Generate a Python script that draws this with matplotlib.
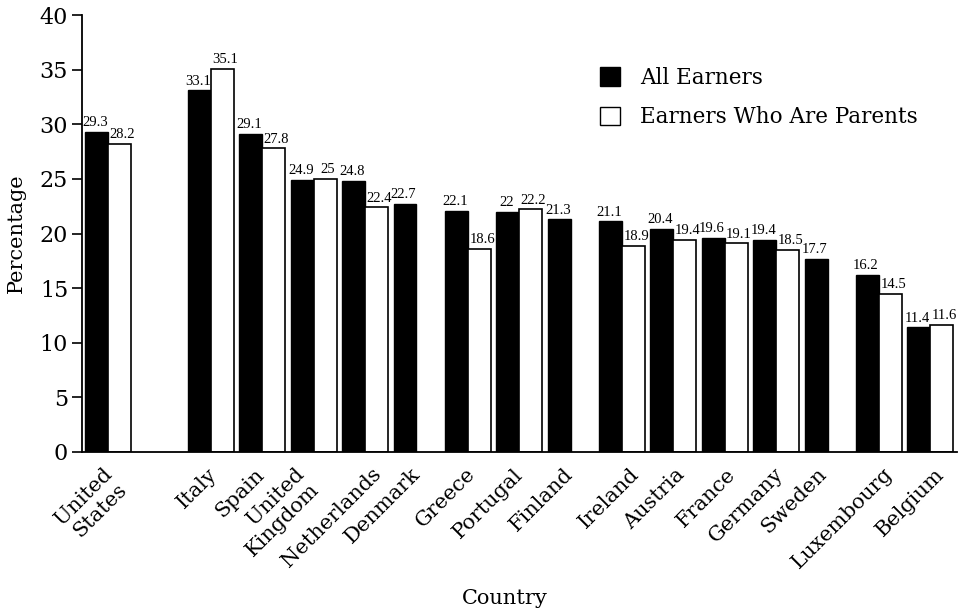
import numpy as np
import matplotlib
matplotlib.use("Agg")
import matplotlib.pyplot as plt
from matplotlib.patches import Patch
from matplotlib.transforms import ScaledTranslation

countries = ["United\nStates", "Italy", "Spain", "United\nKingdom", "Netherlands",
             "Denmark", "Greece", "Portugal", "Finland", "Ireland", "Austria",
             "France", "Germany", "Sweden", "Luxembourg", "Belgium"]
all_earners = [29.3, 33.1, 29.1, 24.9, 24.8, 22.7, 22.1, 22.0, 21.3, 21.1, 20.4,
               19.6, 19.4, 17.7, 16.2, 11.4]
# no figure for parents in Denmark, Finland, Sweden
parents = [28.2, 35.1, 27.8, 25.0, 22.4, None, 18.6, 22.2, None, 18.9, 19.4,
           19.1, 18.5, None, 14.5, 11.6]

main_font = "DejaVu Serif"
num_font = "Liberation Serif"

# US sits apart from the European group
x = np.array([0] + list(range(2, 17)), dtype=float)
w = 0.447
# sideways nudge of each country name, in pixels
label_nudge = [-6, -4, -8, -19, 6, -6, -2, -6, -7, 7, 2, 1, -2, -11, 4, 4]

fig = plt.figure(figsize=(9.58, 6.09), dpi=100)
ax = fig.add_axes([82 / 958, 1 - 452 / 609, 875 / 958, 437 / 609])

for xi, a, p in zip(x, all_earners, parents):
    ax.bar(xi - w / 2, a, w, color="black", edgecolor="black", linewidth=1.0)
    ax.annotate(f"{a:g}", (xi - w / 2, a), xytext=(-1, 2), textcoords="offset points",
                ha="center", va="bottom", family=num_font, fontsize=10.5)
    if p is not None:
        ax.bar(xi + w / 2, p, w, color="white", edgecolor="black", linewidth=1.2)
        ax.annotate(f"{p:g}", (xi + w / 2, p), xytext=(2, 2), textcoords="offset points",
                    ha="center", va="bottom", family=num_font, fontsize=10.5)

ax.set_ylim(0, 40)
ax.set_xlim(-0.51, 16.52)
ax.set_yticks(np.arange(0, 41, 5))
ax.set_xticks(x)
ax.set_xticklabels(countries, rotation=45, ha="right", rotation_mode="anchor",
                   family=main_font, fontsize=15, multialignment="right",
                   linespacing=1.15)
ax.tick_params(axis="x", length=0, pad=9)
ax.tick_params(axis="y", length=7, width=1.2, direction="out", pad=3)
for lab, dx in zip(ax.get_xticklabels(), label_nudge):
    lab.set_transform(lab.get_transform() +
                      ScaledTranslation(dx / 100, 0, fig.dpi_scale_trans))
for lab in ax.get_yticklabels():
    lab.set_family(main_font)
    lab.set_fontsize(16)

for s in ["top", "right"]:
    ax.spines[s].set_visible(False)
ax.spines["left"].set_linewidth(1.3)
ax.spines["bottom"].set_linewidth(1.3)

ax.set_ylabel("Percentage", family=main_font, fontsize=15, labelpad=10)
fig.text(505 / 958, 1 - 598 / 609, "Country", ha="center", va="center",
         family=main_font, fontsize=15)

handles = [Patch(facecolor="black", edgecolor="black"),
           Patch(facecolor="white", edgecolor="black")]
fig.legend(handles, ["All Earners", "Earners Who Are Parents"], frameon=False,
           loc="upper left", bbox_to_anchor=(600 / 958, 1 - 67 / 609),
           prop={"family": main_font, "size": 15.5}, borderpad=0, borderaxespad=0,
           handlelength=0.95, handleheight=0.95, handletextpad=0.9, labelspacing=0.8)

fig.savefig("out.png", dpi=100)
